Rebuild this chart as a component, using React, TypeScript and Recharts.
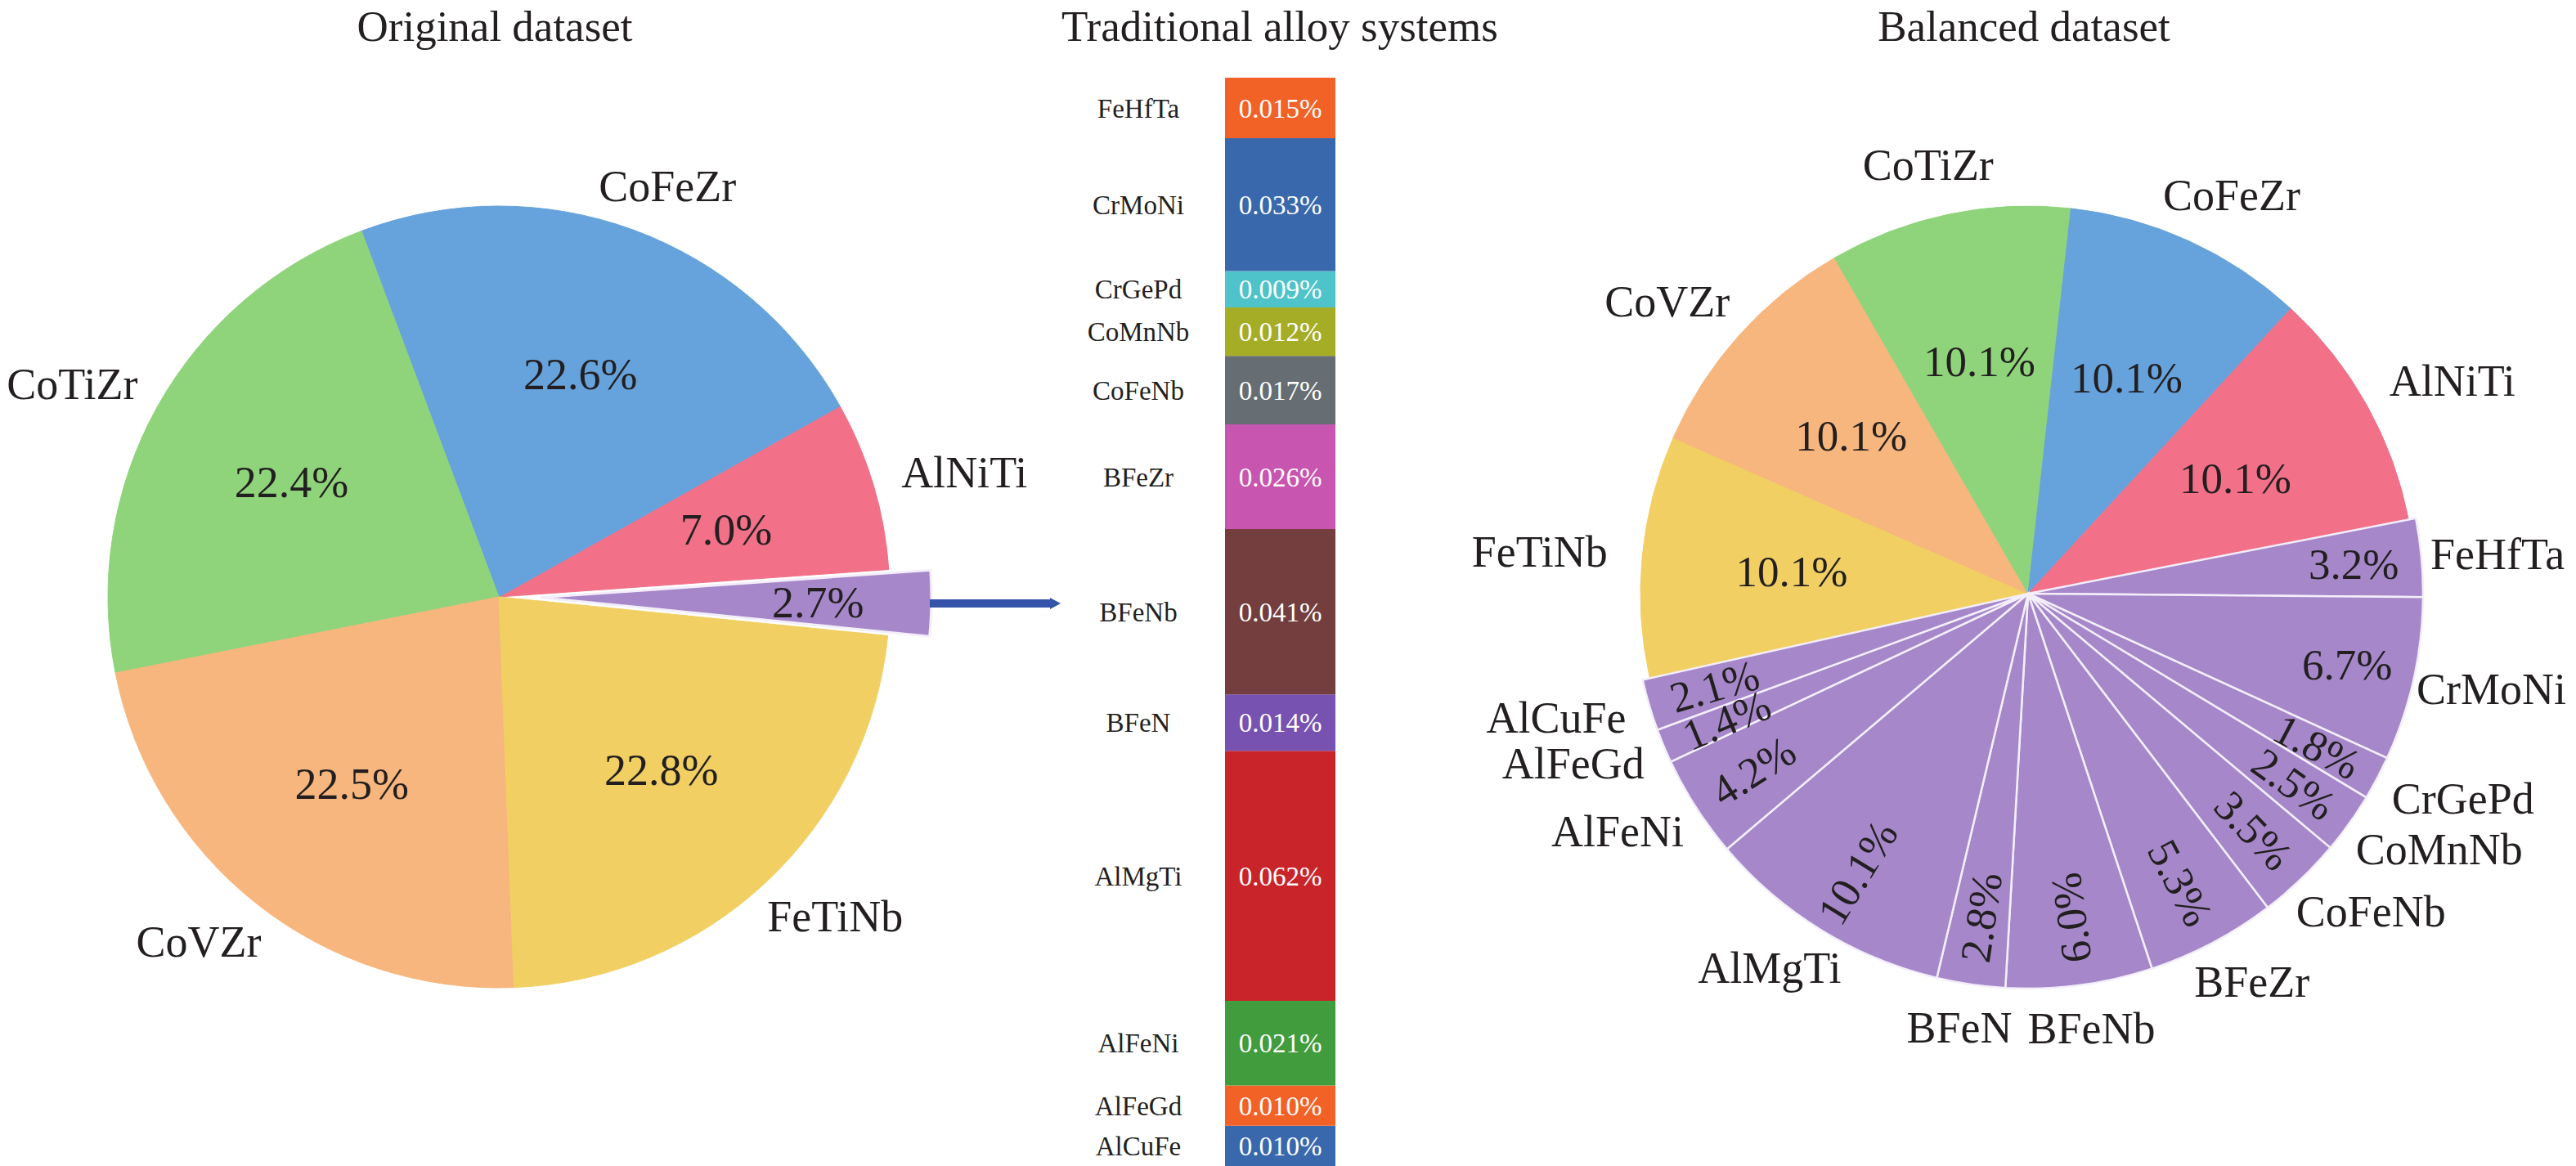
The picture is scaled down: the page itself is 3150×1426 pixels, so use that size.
import { Bar, BarChart, Cell, Pie, PieChart, XAxis, YAxis } from "recharts"

// original dataset (left pie), counter-clockwise from the exploded slice
const originalNames = ["Traditional alloy systems", "AlNiTi", "CoFeZr", "CoTiZr", "CoVZr", "FeTiNb"]
const originalValues = [2.7, 7.0, 22.6, 22.4, 22.5, 22.8]
const originalColors = ["#a688ca", "#f27189", "#66a3dc", "#8fd47b", "#f6b67d", "#f1cf63"]

// traditional alloy systems (middle stacked bar), top to bottom
const traditionalNames = ["FeHfTa", "CrMoNi", "CrGePd", "CoMnNb", "CoFeNb", "BFeZr", "BFeNb", "BFeN", "AlMgTi", "AlFeNi", "AlFeGd", "AlCuFe"]
const traditionalValues = [0.015, 0.033, 0.009, 0.012, 0.017, 0.026, 0.041, 0.014, 0.062, 0.021, 0.01, 0.01]
const traditionalColors = ["#f26126", "#3a68ad", "#4ec4ca", "#a5ad26", "#666d73", "#c855b0", "#733e3d", "#7752b1", "#c9242a", "#419c3d", "#f26126", "#3a68ad"]

// balanced dataset (right pie), clockwise from FeHfTa
const balancedNames = [...traditionalNames, "FeTiNb", "CoVZr", "CoTiZr", "CoFeZr", "AlNiTi"]
const balancedValues = [3.2, 6.7, 1.8, 2.5, 3.5, 5.3, 6.0, 2.8, 10.1, 4.2, 1.4, 2.1, 10.1, 10.1, 10.1, 10.1, 10.1]

const serif = "'Times New Roman', 'Liberation Serif', serif"
const ink = "#231f20"
const purple = originalColors[0]
const RAD = Math.PI / 180

const originalData = originalNames.map((name, i) => ({ name, value: originalValues[i] }))
const balancedData = balancedNames.map((name, i) => ({ name, value: balancedValues[i] }))
const traditionalRow = Object.fromEntries([["group", "Traditional"], ...traditionalNames.map((n, i) => [n, traditionalValues[i]])])
const traditionalTotal = traditionalValues.reduce((a, b) => a + b, 0)

const isTraditional = (name: string) => traditionalNames.includes(name)
const balancedColor = (name: string) => (isTraditional(name) ? purple : originalColors[originalNames.indexOf(name)])

// left pie geometry
const leftCx = 605
const leftCy = 725
const leftR = 478
const leftStart = -5.7
const explodeMid = leftStart + (360 * originalValues[0]) / originalValues.reduce((a, b) => a + b, 0) / 2
const explodeBy = 51

// right pie geometry
const rightCx = 775
const rightCy = 721
const rightR = 476
const rightStart = 11

// rough Times advance widths (em)
const glyphW: Record<string, number> = {
  A: 0.722, B: 0.667, C: 0.667, F: 0.556, G: 0.722, H: 0.722, M: 0.889, N: 0.722, T: 0.611, V: 0.722, Z: 0.611,
  a: 0.444, b: 0.5, d: 0.5, e: 0.444, f: 0.333, g: 0.5, i: 0.278, l: 0.278, n: 0.5, o: 0.5, r: 0.333, u: 0.5, y: 0.5,
}
const textWidth = (s: string, size: number) => s.split("").reduce((w, ch) => w + (glyphW[ch] ?? 0.5), 0) * size

function polar(cx: number, cy: number, r: number, angle: number) {
  return [cx + r * Math.cos(angle * RAD), cy - r * Math.sin(angle * RAD)]
}

// outside label: box pushed away from the pie along the mid angle
function namePos(cx: number, cy: number, r: number, angle: number, name: string, maxX = 99999) {
  const w = textWidth(name, 54)
  const h = 40
  const c = Math.cos(angle * RAD)
  const s = Math.sin(angle * RAD)
  let x = cx + r * c + (w / 2) * c
  if (x + w / 2 > maxX) x = maxX - w / 2
  return [x, cy - r * s - (h / 2) * s]
}

function Txt({ x, y, size, children, rotate = 0, fill = ink }: any) {
  return (
    <text
      x={x}
      y={y}
      dy="0.35em"
      textAnchor="middle"
      fontFamily={serif}
      fontSize={size}
      fill={fill}
      transform={rotate ? `rotate(${rotate}, ${x}, ${y})` : undefined}
    >
      {children}
    </text>
  )
}

const renderOriginalLabel = (p: any) => {
  if (p.index === 0) return <g />
  const [px, py] = polar(p.cx, p.cy, p.outerRadius * 0.607, p.midAngle)
  const [nx, ny] = namePos(p.cx, p.cy, p.outerRadius + 38, p.midAngle, p.name)
  return (
    <g>
      <Txt x={px} y={py} size={54}>{`${Number(p.value).toFixed(1)}%`}</Txt>
      <Txt x={nx} y={ny} size={54}>{p.name}</Txt>
    </g>
  )
}

const renderExplodedLabel = (p: any) => {
  if (p.index !== 0) return <g />
  const [px, py] = polar(p.cx, p.cy, p.outerRadius * 0.71, p.midAngle)
  return <Txt x={px} y={py} size={54}>{`${Number(p.value).toFixed(1)}%`}</Txt>
}

const renderBalancedLabel = (traditional: boolean) => (p: any) => {
  if (isTraditional(p.name) !== traditional) return <g />
  const [nx, ny] = namePos(p.cx, p.cy, rightR + 40, p.midAngle, p.name, 1438)
  const a = ((((p.midAngle % 360) + 540) % 360) - 180)
  let px: number
  let py: number
  let rot = 0
  if (traditional) {
    ;[px, py] = polar(p.cx, p.cy, rightR * 0.84, p.midAngle)
    if (Math.abs(a) < 20) rot = 0
    else if (a > -80 && a < 90) rot = -a
    else rot = 180 - (a < 0 ? a + 360 : a)
  } else {
    ;[px, py] = polar(p.cx, p.cy, rightR * 0.61, p.midAngle)
  }
  return (
    <g>
      <Txt x={px} y={py} size={53} rotate={rot}>{`${Number(p.value).toFixed(1)}%`}</Txt>
      <Txt x={nx} y={ny} size={54}>{p.name}</Txt>
    </g>
  )
}

const renderTraditionalLabel = (p: any, i: number) => {
  const x = Number(p.x)
  const y = Number(p.y)
  const w = Number(p.width)
  const h = Number(p.height)
  return (
    <g>
      <Txt x={x + w / 2} y={y + h / 2} size={33} fill="#ffffff">{`${traditionalValues[i].toFixed(3)}%`}</Txt>
      <Txt x={x - 106} y={y + h / 2} size={33}>{traditionalNames[i]}</Txt>
    </g>
  )
}

export default function App() {
  const [ex, ey] = polar(leftCx, leftCy, explodeBy, explodeMid)
  const bottomUp = traditionalNames.map((_, i) => i).reverse()

  return (
    <div style={{ position: "absolute", left: 0, top: 0, width: 3150, height: 1426, background: "#ffffff" }}>
      <div style={{ position: "absolute", left: 0, top: 0 }}>
        <PieChart width={1300} height={1426}>
          <Pie
            data={originalData}
            dataKey="value"
            nameKey="name"
            cx={leftCx}
            cy={leftCy}
            outerRadius={leftR}
            startAngle={leftStart}
            endAngle={leftStart + 360}
            label={renderOriginalLabel}
            labelLine={false}
            isAnimationActive={false}
          >
            {originalData.map((d, i) => (
              <Cell key={d.name} fill={i === 0 ? "none" : originalColors[i]} stroke={i === 0 ? "none" : originalColors[i]} strokeWidth={1} />
            ))}
          </Pie>
          <Pie
            data={originalData}
            dataKey="value"
            nameKey="name"
            cx={ex}
            cy={ey}
            outerRadius={leftR}
            startAngle={leftStart}
            endAngle={leftStart + 360}
            label={renderExplodedLabel}
            labelLine={false}
            isAnimationActive={false}
          >
            {originalData.map((d, i) => (
              <Cell key={d.name} fill={i === 0 ? purple : "none"} stroke={i === 0 ? "#f4eefa" : "none"} strokeWidth={3} />
            ))}
          </Pie>
        </PieChart>
      </div>

      <div style={{ position: "absolute", left: 1300, top: 0 }}>
        <BarChart width={400} height={1426} data={[traditionalRow]} margin={{ top: 95, right: 0, bottom: 0, left: 130 }}>
          <XAxis dataKey="group" hide />
          <YAxis hide domain={[0, traditionalTotal]} allowDataOverflow />
          {bottomUp.map((i) => (
            <Bar
              key={traditionalNames[i]}
              dataKey={traditionalNames[i]}
              stackId="t"
              fill={traditionalColors[i]}
              barSize={135}
              isAnimationActive={false}
              label={(p: any) => renderTraditionalLabel(p, i)}
            />
          ))}
        </BarChart>
      </div>

      <div style={{ position: "absolute", left: 1700, top: 0 }}>
        <PieChart width={1450} height={1426}>
          <Pie
            data={balancedData}
            dataKey="value"
            nameKey="name"
            cx={rightCx}
            cy={rightCy}
            outerRadius={rightR - 2}
            startAngle={rightStart}
            endAngle={rightStart - 360}
            label={renderBalancedLabel(false)}
            labelLine={false}
            isAnimationActive={false}
          >
            {balancedData.map((d) => (
              <Cell key={d.name} fill={isTraditional(d.name) ? "none" : balancedColor(d.name)} stroke={isTraditional(d.name) ? "none" : balancedColor(d.name)} strokeWidth={1} />
            ))}
          </Pie>
          <Pie
            data={balancedData}
            dataKey="value"
            nameKey="name"
            cx={rightCx}
            cy={rightCy}
            outerRadius={rightR + 7}
            startAngle={rightStart}
            endAngle={rightStart - 360}
            label={renderBalancedLabel(true)}
            labelLine={false}
            isAnimationActive={false}
          >
            {balancedData.map((d) => (
              <Cell key={d.name} fill={isTraditional(d.name) ? purple : "none"} stroke={isTraditional(d.name) ? "#f3eefa" : "none"} strokeWidth={2.5} />
            ))}
          </Pie>
        </PieChart>
      </div>

      <svg width={3150} height={1426} style={{ position: "absolute", left: 0, top: 0, pointerEvents: "none" }}>
        <g fontFamily={serif} fontSize={53} fill={ink} textAnchor="middle">
          <text x={leftCx} y={50}>Original dataset</text>
          <text x={1565} y={50}>Traditional alloy systems</text>
          <text x={1700 + rightCx} y={50}>Balanced dataset</text>
        </g>
        <line x1={1137} y1={738} x2={1287} y2={738} stroke="#3553a9" strokeWidth={10} />
        <polygon points="1284,731 1297,738 1284,745" fill="#3553a9" />
      </svg>
    </div>
  )
}
